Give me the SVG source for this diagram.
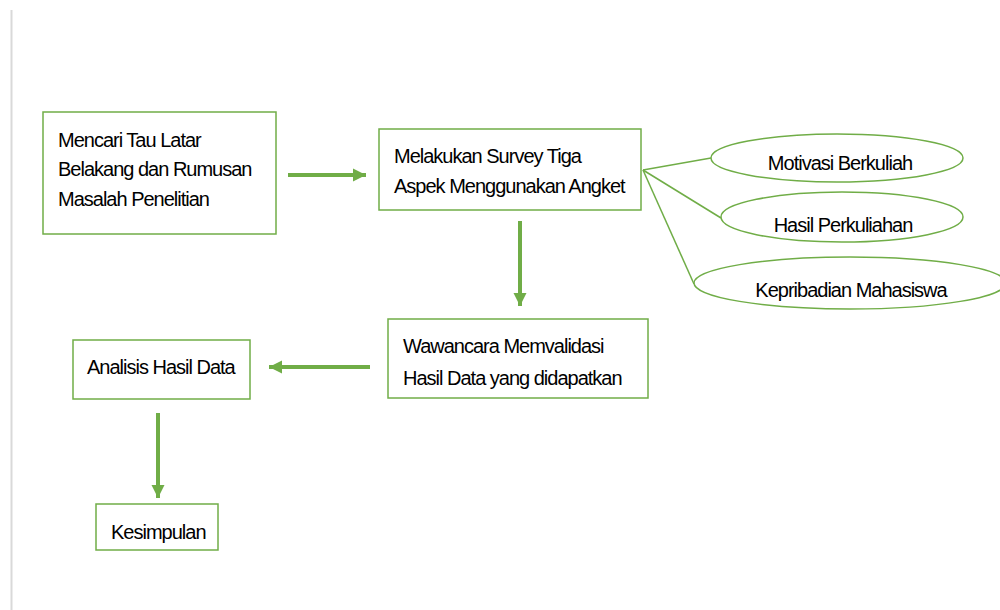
<svg xmlns="http://www.w3.org/2000/svg" width="1000" height="610" viewBox="0 0 1000 610">
<style>
.box{fill:#fff;stroke:#70AD47;stroke-width:1.5}
.ell{fill:#fff;stroke:#70AD47;stroke-width:1.5}
.t{font-family:"Liberation Sans",Arial,sans-serif;font-size:20px;fill:#000;letter-spacing:-1px}
.arr{stroke:#70AD47;stroke-width:4;fill:none}
.ln{stroke:#70AD47;stroke-width:1.5;fill:none}
</style>
<defs>
<marker id="ah" viewBox="0 0 10 10" refX="10" refY="5" markerWidth="3.3" markerHeight="3.6" orient="auto" markerUnits="strokeWidth">
<path d="M0,0 L10,5 L0,10 z" fill="#70AD47"/>
</marker>
</defs>
<rect width="1000" height="610" fill="#fff"/>
<line x1="11.5" y1="10" x2="11.5" y2="610" stroke="#d9d9d9" stroke-width="2"/>
<g id="connectors">
<line class="arr" x1="288" y1="175" x2="366" y2="175" marker-end="url(#ah)"/>
<line class="arr" x1="520" y1="221" x2="520" y2="306" marker-end="url(#ah)"/>
<line class="arr" x1="370" y1="367" x2="269" y2="367" marker-end="url(#ah)"/>
<line class="arr" x1="158" y1="413" x2="158" y2="498" marker-end="url(#ah)"/>
<line class="ln" x1="643" y1="170" x2="711" y2="158"/>
<line class="ln" x1="643" y1="170" x2="721" y2="218"/>
<line class="ln" x1="643" y1="170" x2="694" y2="284"/>
</g>
<g id="n1"><rect class="box" x="43" y="112" width="233" height="122"/>
<text class="t" x="58" y="147">Mencari Tau Latar</text>
<text class="t" x="58" y="176">Belakang dan Rumusan</text>
<text class="t" x="58" y="206">Masalah Penelitian</text></g>
<g id="n2"><rect class="box" x="379" y="129" width="262" height="81"/>
<text class="t" x="394" y="163">Melakukan Survey Tiga</text>
<text class="t" x="394" y="193">Aspek Menggunakan Angket</text></g>
<g id="n3"><rect class="box" x="388" y="319" width="260" height="79"/>
<text class="t" x="403" y="353">Wawancara Memvalidasi</text>
<text class="t" x="403" y="385">Hasil Data yang didapatkan</text></g>
<g id="n4"><rect class="box" x="73" y="340" width="177" height="59"/>
<text class="t" x="87" y="374">Analisis Hasil Data</text></g>
<g id="n5"><rect class="box" x="96" y="504" width="122" height="46"/>
<text class="t" x="111" y="539">Kesimpulan</text></g>
<g id="e1"><ellipse class="ell" cx="837" cy="158" rx="126" ry="24"/>
<text class="t" x="840" y="170" text-anchor="middle">Motivasi Berkuliah</text></g>
<g id="e2"><ellipse class="ell" cx="842" cy="217" rx="121" ry="25"/>
<text class="t" x="843" y="232" text-anchor="middle">Hasil Perkuliahan</text></g>
<g id="e3"><ellipse class="ell" cx="850" cy="283" rx="156" ry="26"/>
<text class="t" x="851" y="297" text-anchor="middle">Kepribadian Mahasiswa</text></g>
</svg>
